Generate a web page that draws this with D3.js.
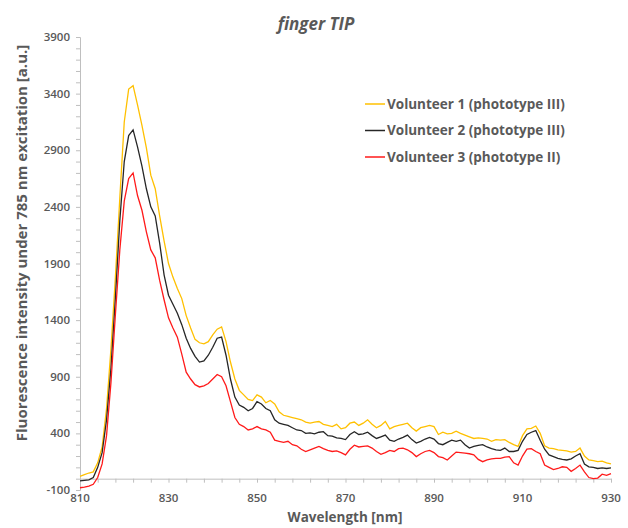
<!DOCTYPE html>
<html>
<head>
<meta charset="utf-8">
<script src="https://cdn.jsdelivr.net/npm/d3@7"></script>
<style>
  body { margin: 0; background: #fff; }
  text { font-family: "Open Sans", "Noto Sans", sans-serif; fill: #595959; }
</style>
</head>
<body>
<div id="chart"></div>
<script>
// Wavelength grid (nm), one reading per nm
const wavelengths = d3.range(810, 931, 1);

// Volunteer 1 (phototype III)
const volunteer1 = [
  20, 35, 50, 60, 140, 280, 620, 1150, 1780, 2480,
  3150, 3440, 3470, 3300, 3120, 2920, 2680, 2560, 2320, 2100,
  1900, 1780, 1680, 1590, 1440, 1330, 1230, 1200, 1190, 1210,
  1270, 1320, 1340, 1210, 1030, 880, 780, 740, 700, 690,
  740, 720, 670, 690, 660, 590, 560, 550, 540, 530,
  520, 500, 490, 500, 505, 480, 470, 460, 480, 440,
  450, 490, 500, 470, 490, 520, 480, 450, 470, 505,
  440, 460, 470, 480, 490, 450, 420, 450, 460, 470,
  460, 390, 410, 395, 400, 420, 400, 385, 370, 355,
  360, 355, 350, 330, 345, 340, 345, 320, 300, 285,
  380, 440, 445, 465, 400, 290, 270, 265, 255, 250,
  245, 235, 240, 270, 200, 165, 160, 150, 155, 140,
  130
];

// Volunteer 2 (phototype III)
const volunteer2 = [
  -20, -15, -10, 10, 100, 230, 520, 980, 1600, 2280,
  2800, 3030, 3080, 2930, 2760, 2560, 2400, 2320, 2080, 1800,
  1620, 1540, 1460, 1360, 1240, 1150, 1080, 1030, 1040, 1090,
  1160, 1240, 1250, 1090, 880, 720, 650, 630, 600, 620,
  680, 660, 620, 600, 520, 490, 480, 470, 450, 430,
  425, 400, 405, 395, 410, 415, 380, 375, 360, 355,
  345, 390, 415, 390, 395, 410, 380, 355, 370, 385,
  340, 330, 350, 365, 385, 345, 315, 330, 350, 365,
  350, 310, 300, 320, 340, 330, 340, 300, 270, 285,
  295, 300, 280, 265, 255, 250, 270, 240, 240, 250,
  330, 390, 410, 425, 340, 260, 210, 195, 180, 170,
  165, 175, 200, 220, 130, 105, 100, 90, 95, 90,
  95
];

// Volunteer 3 (phototype II)
const volunteer3 = [
  -80, -75, -65, -50, 10, 130, 380, 850, 1450, 2020,
  2450, 2650, 2700, 2500, 2370, 2180, 2020, 1950, 1750, 1580,
  1420, 1330, 1250, 1100, 940, 880, 830, 810, 820, 840,
  880, 920, 900, 820, 680, 540, 480, 460, 430, 440,
  460, 440, 430, 410, 340, 330, 320, 330, 300, 290,
  260, 240, 255, 270, 285, 265, 250, 240, 245, 230,
  210, 260, 295, 280, 285, 290, 270, 240, 215, 230,
  250, 240, 265, 270, 255, 230, 195, 220, 240, 250,
  230, 195, 185, 165, 200, 235, 230, 225, 220, 210,
  170, 150, 165, 175, 180, 180, 190, 195, 140, 120,
  200, 260, 265, 240, 220, 120, 100, 80, 90, 105,
  100, 65, 90, 120, 60, 10, 0, 5, 40, 30,
  45
];

const seriesNames = ["Volunteer 1 (phototype III)", "Volunteer 2 (phototype III)", "Volunteer 3 (phototype II)"];
const seriesColors = ["#FFC000", "#262626", "#FF1A1A"];
const seriesValues = [volunteer1, volunteer2, volunteer3];

const yTicks = [-100, 400, 900, 1400, 1900, 2400, 2900, 3400, 3900];
const xTicks = [810, 830, 850, 870, 890, 910, 930];

const width = 628;
const height = 528;
const margin = { top: 37, right: 17, bottom: 38, left: 80 };

const svg = d3.select("#chart")
  .append("svg")
  .attr("width", width)
  .attr("height", height);

const x = d3.scaleLinear()
  .domain([810, 930])
  .range([margin.left, width - margin.right]);

const y = d3.scaleLinear()
  .domain([-100, 3900])
  .range([height - margin.bottom, margin.top]);

// Title
svg.append("text")
  .attr("x", 316)
  .attr("y", 30)
  .attr("text-anchor", "middle")
  .style("font-size", "17px")
  .style("font-weight", "bold")
  .style("font-style", "italic")
  .text("finger TIP");

// Y axis: line at left, minor ticks every 100
const yAxis = svg.append("g")
  .attr("transform", `translate(${margin.left},0)`)
  .call(d3.axisLeft(y).tickValues(d3.range(-100, 3901, 100)).tickSize(4).tickFormat(""));
yAxis.select(".domain").attr("stroke", "#BFBFBF");
yAxis.selectAll(".tick line").attr("stroke", "#BFBFBF");

svg.append("g").selectAll("text")
  .data(yTicks)
  .enter().append("text")
  .attr("x", margin.left - 10)
  .attr("y", d => y(d))
  .attr("dy", "0.35em")
  .attr("text-anchor", "end")
  .style("font-size", "11.5px")
  .style("font-weight", "600")
  .text(d => d);

// X axis crosses at 0, minor ticks every 4 nm
const xAxis = svg.append("g")
  .attr("transform", `translate(0,${y(0)})`)
  .call(d3.axisBottom(x).tickValues(d3.range(810, 931, 4)).tickSize(4).tickSizeOuter(0).tickFormat(""));
xAxis.select(".domain").attr("stroke", "#BFBFBF");
xAxis.selectAll(".tick line").attr("stroke", "#BFBFBF");

svg.append("g").selectAll("text")
  .data(xTicks)
  .enter().append("text")
  .attr("x", d => x(d))
  .attr("y", y(-100) + 12)
  .attr("text-anchor", "middle")
  .style("font-size", "11.5px")
  .style("font-weight", "600")
  .text(d => d);

// Axis titles
svg.append("text")
  .attr("x", 345)
  .attr("y", 522)
  .attr("text-anchor", "middle")
  .style("font-size", "13.5px")
  .style("font-weight", "bold")
  .text("Wavelength [nm]");

svg.append("text")
  .attr("transform", "translate(27,243) rotate(-90)")
  .attr("text-anchor", "middle")
  .style("font-size", "15px")
  .style("font-weight", "bold")
  .text("Fluorescence intensity under 785 nm excitation [a.u.]");

// Lines
const line = d3.line()
  .x((d, i) => x(wavelengths[i]))
  .y(d => y(d));

seriesValues.forEach((vals, k) => {
  svg.append("path")
    .datum(vals)
    .attr("fill", "none")
    .attr("stroke", seriesColors[k])
    .attr("stroke-width", 1.3)
    .attr("d", line);
});

// Legend
seriesNames.forEach((name, k) => {
  const ly = 104 + k * 26.5;
  svg.append("line")
    .attr("x1", 365).attr("x2", 385)
    .attr("y1", ly).attr("y2", ly)
    .attr("stroke", seriesColors[k])
    .attr("stroke-width", 1.5);
  svg.append("text")
    .attr("x", 387)
    .attr("y", ly)
    .attr("dy", "0.35em")
    .style("font-size", "13.5px")
    .style("font-weight", "bold")
    .text(name);
});
</script>
</body>
</html>
